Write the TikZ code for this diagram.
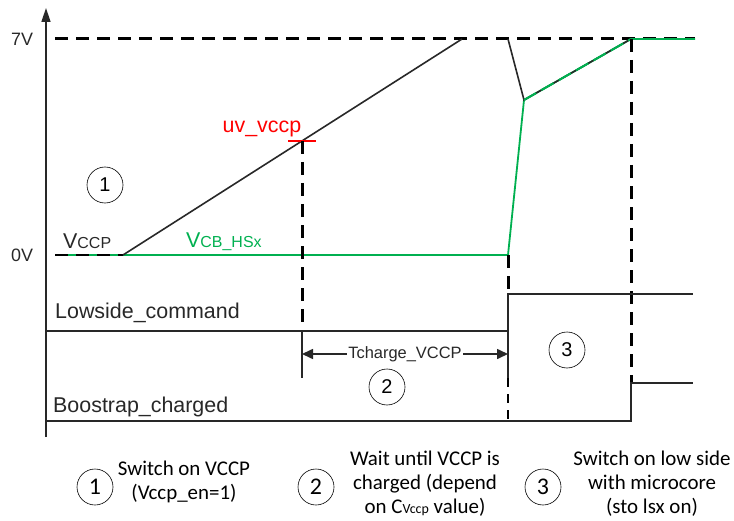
\documentclass[tikz,border=0pt]{standalone}
\usepackage{fontspec}
\setmainfont{Liberation Sans}
\newfontfamily\legendfont{Carlito}
\usetikzlibrary{arrows.meta,positioning}
\definecolor{vgreen}{RGB}{0,176,80}
\definecolor{ink}{RGB}{40,40,40}

\begin{document}
\begin{tikzpicture}[
    x=1bp, y=-1bp,
    wave/.style={line width=1.6bp, ink},
    guide/.style={line width=3bp, dash pattern=on 13bp off 8bp},
    thinguide/.style={line width=1.8bp, dash pattern=on 9bp off 7bp},
    num/.style={circle, draw, line width=0.6bp, minimum size=36bp, inner sep=0pt, font=\fontsize{20}{24}\selectfont},
    lbl/.style={font=\fontsize{21.5}{24}\selectfont, inner sep=0pt, text=ink},
    legend/.style={font=\legendfont\fontsize{21}{24}\selectfont, align=center, inner sep=0pt},
    tip/.style={-{Triangle[length=14bp,width=9bp]}}
]
\useasboundingbox (0,0) rectangle (734,521);

\coordinate (O) at (46,437);
\coordinate (top) at (46,8);
\coordinate (s0) at (123,255);
\coordinate (s7) at (462,39);
\coordinate (uv) at (302,141);
\coordinate (rise) at (508,255);
\coordinate (dip) at (524,100);
\coordinate (full) at (631,39);

\draw[wave, tip] (O) -- (top);
\node[lbl, font=\fontsize{18}{20}\selectfont] (v7) at (22,39) {7V};
\node[lbl, font=\fontsize{18}{20}\selectfont] (v0) at (22,255) {0V};

\draw[guide] (55,39) -- (695,39);
\draw[vgreen, line width=1.8bp] (55,255) -- (rise) -- (dip) -- (full) -- (695,39);
\draw[guide, line width=2bp] (55,255) -- (s0);
\draw[wave] (s0) -- (s7);
\draw[wave] (508,39) -- (dip) -- (full);
\draw[vgreen, line width=2bp, dash pattern=on 14bp off 6bp] (dip) -- (full);

\draw[red, line width=1.6bp] (288,141) -- (316,141);
\node[lbl, text=red, anchor=south] (uvl) at (262,137) {uv\_vccp};
\node[lbl, anchor=south west] (vccp) at (63,249) {V{\fontsize{16}{16}\selectfont CCP}};
\node[lbl, text=vgreen, anchor=south west] (vcb) at (186,251) {V{\fontsize{16}{16}\selectfont CB\_HSx}};

\draw[guide] (uv) -- (302,331);
\draw[guide] (full) -- (631,383);
\draw[guide] (rise) -- (508,294);
\draw[thinguide] (508,378) -- (508,422);

\draw[wave] (46,331) -- (508,331) -- (508,294) -- (693,294);
\draw[wave] (46,421) -- (631,421) -- (631,383) -- (693,383);
\draw[wave] (302,331) -- (302,378);
\draw[wave] (508,294) -- (508,378);
\node[lbl, anchor=west] (low) at (55,313) {Lowside\_command};
\node[lbl, anchor=west] (boot) at (53,407) {Boostrap\_charged};

\coordinate (ta) at (302,354);
\coordinate (tb) at (508,354);
\draw[wave, {Triangle[length=11bp,width=10bp]}-{Triangle[length=11bp,width=10bp]}] (ta) --
    node[lbl, fill=white, inner xsep=1bp, font=\fontsize{16.5}{18}\selectfont] (tch) {Tcharge\_VCCP} (tb);

\node[num] (c1) at (105,185) {1};
\node[num] (c2) at (387,387) {2};
\node[num] (c3) at (567,350) {3};

\node[num, font=\legendfont\fontsize{24}{24}\selectfont] (l1) at (95,487) {1};
\node[num, font=\legendfont\fontsize{24}{24}\selectfont] (l2) at (316,487) {2};
\node[num, font=\legendfont\fontsize{24}{24}\selectfont] (l3) at (543,487) {3};
\node[legend] (t1) at (184,482) {Switch on VCCP\\(Vccp\_en=1)};
\node[legend] (t2) at (425,484) {Wait until VCCP is\\charged (depend\\on C{\fontsize{14}{14}\selectfont Vccp} value)};
\node[legend] (t3) at (652,484) {Switch on low side\\with microcore\\(sto lsx on)};
\end{tikzpicture}
\end{document}
